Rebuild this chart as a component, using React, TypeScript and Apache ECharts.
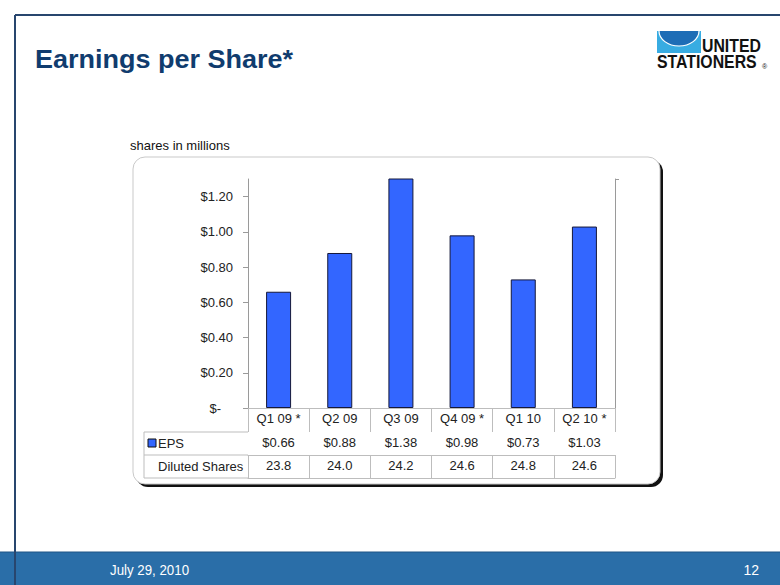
import React, { useEffect, useRef } from "react";
import * as echarts from "echarts";

const categories = ["Q1 09 *", "Q2 09", "Q3 09", "Q4 09 *", "Q1 10", "Q2 10 *"];
const eps = [0.66, 0.88, 1.38, 0.98, 0.73, 1.03];
const dilutedShares = [23.8, 24.0, 24.2, 24.6, 24.8, 24.6];
const yTicks = [0, 0.2, 0.4, 0.6, 0.8, 1.0, 1.2];
const yMax = 1.3;

const FONT = "'Liberation Sans', Arial, sans-serif";
const TEXT = "#222";
const TABLE_LINE = "#bdbdbd";
const AXIS_LINE = "#9a9a9a";
const NAVY = "#28466e";

export default function App() {
  const ref = useRef<HTMLDivElement>(null);

  useEffect(() => {
    if (!ref.current) return;
    const chart = echarts.init(ref.current, null, { renderer: "svg" });

    const tableX = (offset: number, labels: (i: number) => string, tickLen: number, showLabel = true) => ({
      type: "category",
      gridIndex: 0,
      position: "bottom",
      offset,
      data: categories,
      boundaryGap: true,
      axisLine: { show: true, lineStyle: { color: offset === 0 ? AXIS_LINE : TABLE_LINE, width: 1 } },
      axisTick: {
        show: tickLen > 0,
        interval: 0,
        alignWithLabel: false,
        length: tickLen,
        lineStyle: { color: TABLE_LINE, width: 1 },
      },
      axisLabel: {
        show: showLabel,
        interval: 0,
        margin: 4,
        fontSize: 13,
        color: TEXT,
        fontFamily: FONT,
        formatter: (_v: string, i: number) => labels(i),
      },
      splitLine: { show: false },
    });

    chart.setOption({
      animation: false,
      backgroundColor: "#ffffff",
      grid: { left: 248, top: 179, width: 367, height: 229, containLabel: false },
      xAxis: [
        tableX(0, (i) => categories[i], 24),
        tableX(24, (i) => "$" + eps[i].toFixed(2), 23),
        tableX(47, (i) => dilutedShares[i].toFixed(1), 23),
        tableX(70, () => "", 0, false),
      ],
      yAxis: [
        {
          type: "value",
          min: 0,
          max: yMax,
          position: "left",
          axisLine: { show: true, lineStyle: { color: AXIS_LINE } },
          axisTick: { show: true, length: 5, lineStyle: { color: AXIS_LINE }, customValues: yTicks },
          axisLabel: {
            customValues: yTicks,
            margin: 15,
            fontSize: 13,
            color: TEXT,
            fontFamily: FONT,
            formatter: (v: number) => (v === 0 ? "{z|$-}" : "$" + v.toFixed(2)),
            rich: { z: { fontSize: 13, color: TEXT, fontFamily: FONT, padding: [0, 12, 0, 0] } },
          },
          splitLine: { show: false },
        },
        {
          type: "value",
          min: 0,
          max: yMax,
          position: "right",
          axisLine: { show: true, lineStyle: { color: AXIS_LINE } },
          axisTick: { show: true, length: 4, lineStyle: { color: AXIS_LINE }, customValues: [yMax] },
          axisLabel: { show: false },
          splitLine: { show: false },
        },
      ],
      series: [
        {
          type: "bar",
          name: "EPS",
          xAxisIndex: 0,
          yAxisIndex: 0,
          data: eps,
          barWidth: 25,
          clip: true,
          itemStyle: { color: "#3366ff", borderColor: "#15183a", borderWidth: 1 },
        },
      ],
      graphic: [
        // chart frame with shadow
        { type: "rect", z: -10, shape: { x: 136, y: 160, width: 527, height: 327, r: 12 }, style: { fill: "#111" } },
        { type: "rect", z: -9, shape: { x: 133, y: 157, width: 527, height: 327, r: 12 }, style: { fill: "#fff", stroke: "#c9c9c9", lineWidth: 1 } },
        // logo
        { type: "rect", z: 50, shape: { x: 657, y: 31, width: 44, height: 22 }, style: { fill: "#38ace2" } },
        { type: "ellipse", z: 51, shape: { cx: 679, cy: 31, rx: 20, ry: 15 }, style: { fill: "#1e6db6", stroke: "#fff", lineWidth: 1.2 } },
        { type: "rect", z: 52, shape: { x: 650, y: 16, width: 60, height: 15 }, style: { fill: "#fff" } },
        { type: "text", z: 53, x: 702, y: 46, scaleX: 0.88, style: { text: "UNITED", x: 0, y: 0, verticalAlign: "middle", fontSize: 18, fontWeight: "bold", fill: "#111", fontFamily: FONT } },
        { type: "text", z: 53, x: 657, y: 62.5, scaleX: 0.88, style: { text: "STATIONERS", x: 0, y: 0, verticalAlign: "middle", fontSize: 18, fontWeight: "bold", fill: "#111", fontFamily: FONT } },
        { type: "text", z: 53, style: { text: "®", x: 762, y: 66, verticalAlign: "middle", fontSize: 7, fill: "#111", fontFamily: FONT } },
        // page header lines
        { type: "line", z: 60, shape: { x1: 15, y1: 15, x2: 780, y2: 15 }, style: { stroke: NAVY, lineWidth: 2 } },
        {
          type: "line",
          z: 50,
          shape: { x1: 18, y1: 85.5, x2: 610, y2: 85.5 },
          style: {
            lineWidth: 2,
            stroke: new echarts.graphic.LinearGradient(0, 0, 1, 0, [
              { offset: 0, color: NAVY },
              { offset: 0.75, color: NAVY },
              { offset: 1, color: "rgba(40,70,110,0)" },
            ]),
          },
        },
        {
          type: "text",
          z: 50,
          x: 35,
          y: 59,
          scaleX: 1.08,
          style: { text: "Earnings per Share*", x: 0, y: 0, verticalAlign: "middle", fontSize: 25, fontWeight: "bold", fill: "#103c6e", fontFamily: FONT },
        },
        // subtitle
        { type: "text", z: 50, style: { text: "shares in millions", x: 130, y: 145, verticalAlign: "middle", fontSize: 13, fill: "#111", fontFamily: FONT } },
        // table header column
        { type: "line", z: 50, shape: { x1: 144, y1: 432, x2: 248, y2: 432 }, style: { stroke: TABLE_LINE, lineWidth: 1 } },
        { type: "line", z: 50, shape: { x1: 144, y1: 455, x2: 248, y2: 455 }, style: { stroke: TABLE_LINE, lineWidth: 1 } },
        { type: "line", z: 50, shape: { x1: 144, y1: 478, x2: 248, y2: 478 }, style: { stroke: TABLE_LINE, lineWidth: 1 } },
        { type: "line", z: 50, shape: { x1: 144, y1: 432, x2: 144, y2: 478 }, style: { stroke: TABLE_LINE, lineWidth: 1 } },
        { type: "rect", z: 50, shape: { x: 148, y: 439, width: 8, height: 8 }, style: { fill: "#3366ff", stroke: "#111", lineWidth: 1 } },
        { type: "text", z: 50, style: { text: "EPS", x: 158, y: 443.5, verticalAlign: "middle", fontSize: 13, fill: TEXT, fontFamily: FONT } },
        { type: "text", z: 50, style: { text: "Diluted Shares", x: 158, y: 466.5, verticalAlign: "middle", fontSize: 13, fill: TEXT, fontFamily: FONT } },
        // footer
        { type: "rect", z: 50, shape: { x: 0, y: 552, width: 780, height: 33 }, style: { fill: "#2a6ea8" } },
        { type: "line", z: 50, shape: { x1: 0, y1: 552, x2: 780, y2: 552 }, style: { stroke: "#1f5585", lineWidth: 1 } },
        { type: "text", z: 51, x: 110, y: 570, scaleX: 0.95, style: { text: "July 29, 2010", x: 0, y: 0, verticalAlign: "middle", fontSize: 14, fill: "#fff", fontFamily: FONT } },
        { type: "text", z: 51, style: { text: "12", x: 759, y: 570, align: "right", verticalAlign: "middle", fontSize: 14, fill: "#fff", fontFamily: FONT } },
        { type: "line", z: 62, shape: { x1: 15, y1: 15, x2: 15, y2: 585 }, style: { stroke: NAVY, lineWidth: 2 } },
      ],
    });

    return () => chart.dispose();
  }, []);

  return <div ref={ref} style={{ position: "absolute", left: 0, top: 0, width: 780, height: 585 }} />;
}
